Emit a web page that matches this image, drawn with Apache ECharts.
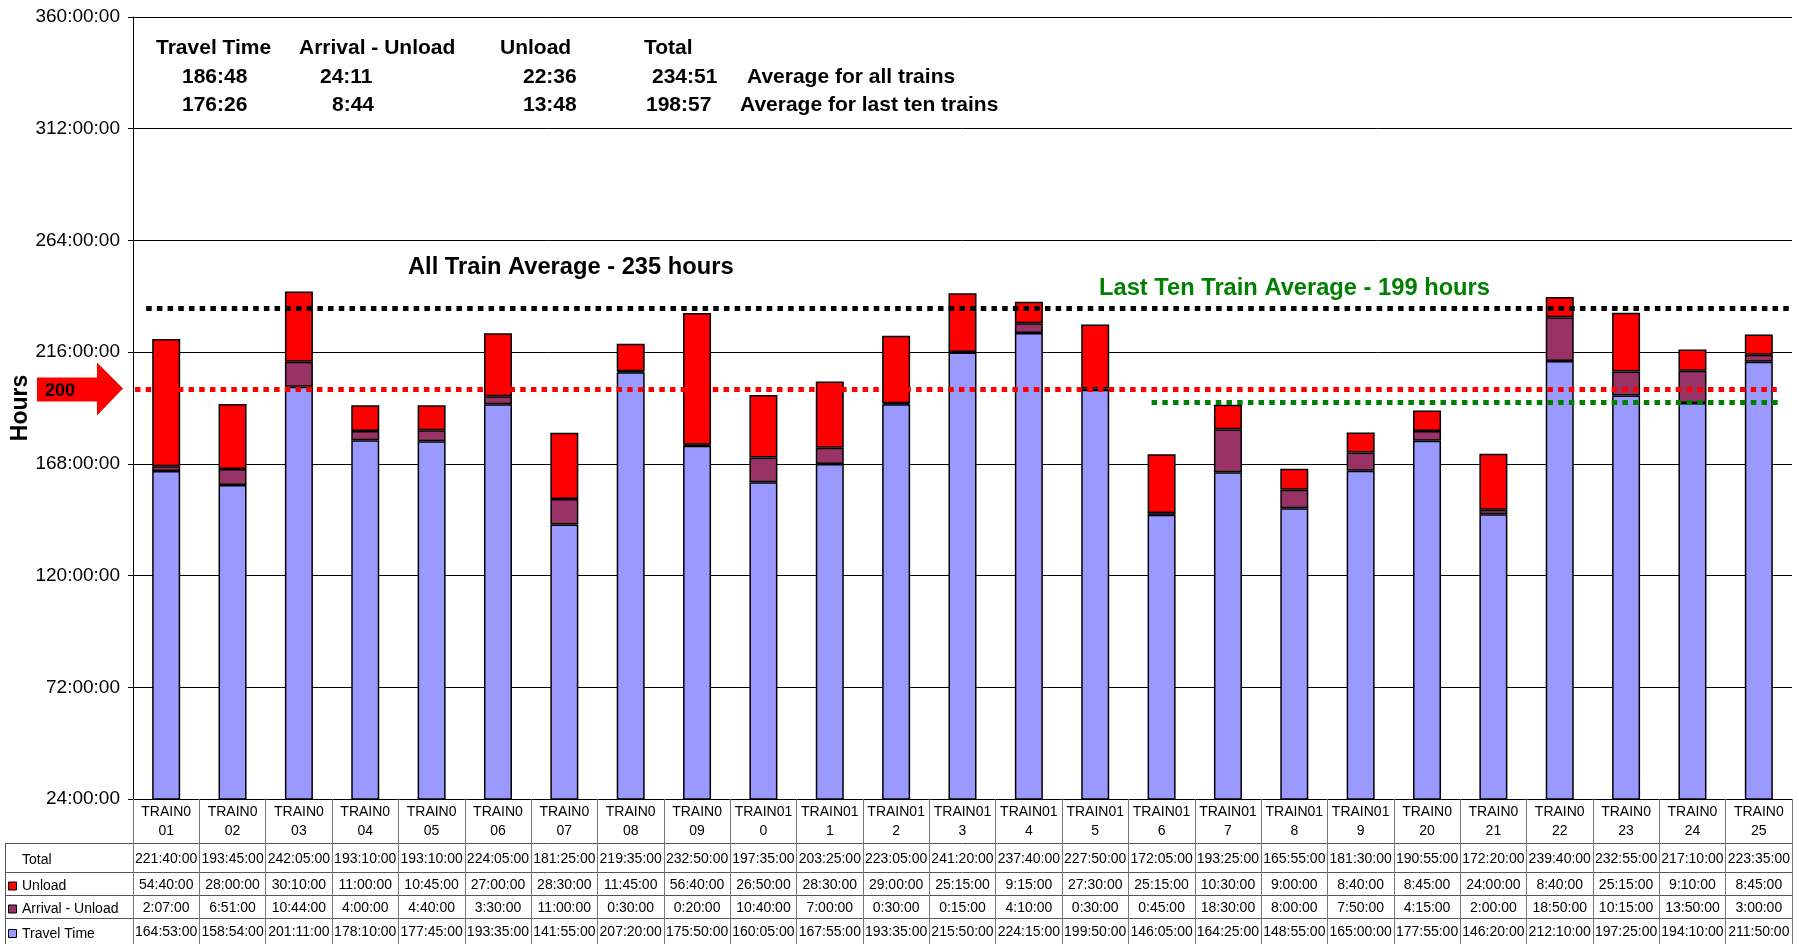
<!DOCTYPE html>
<html><head><meta charset="utf-8">
<script src="https://cdn.jsdelivr.net/npm/echarts@6/dist/echarts.min.js"></script>
<style>html,body{margin:0;padding:0;background:#fff;}#c{width:1799px;height:944px;}</style>
</head><body><div id="c"></div>
<script>
// ---------------- data ----------------
const categories = ['TRAIN001','TRAIN002','TRAIN003','TRAIN004','TRAIN005','TRAIN006','TRAIN007','TRAIN008','TRAIN009','TRAIN010',
  'TRAIN011','TRAIN012','TRAIN013','TRAIN014','TRAIN015','TRAIN016','TRAIN017','TRAIN018','TRAIN019','TRAIN020',
  'TRAIN021','TRAIN022','TRAIN023','TRAIN024','TRAIN025'];
const travelTime = ['164:53','158:54','201:11','178:10','177:45','193:35','141:55','207:20','175:50','160:05','167:55','193:35','215:50',
  '224:15','199:50','146:05','164:25','148:55','165:00','177:55','146:20','212:10','197:25','194:10','211:50'];
const arrivalUnload = ['2:07','6:51','10:44','4:00','4:40','3:30','11:00','0:30','0:20','10:40','7:00','0:30','0:15',
  '4:10','0:30','0:45','18:30','8:00','7:50','4:15','2:00','18:50','10:15','13:50','3:00'];
const unloadTime = ['54:40','28:00','30:10','11:00','10:45','27:00','28:30','11:45','56:40','26:50','28:30','29:00','25:15',
  '9:15','27:30','25:15','10:30','9:00','8:40','8:45','24:00','8:40','25:15','9:10','8:45'];
const seriesNames = ['Travel Time','Arrival - Unload','Unload'];
const seriesColors = ['#9999FF','#993366','#FF0000'];
const summaryHeader = ['Travel Time','Arrival - Unload','Unload','Total'];
const summaryAll = ['186:48','24:11','22:36','234:51','Average for all trains'];
const summaryLastTen = ['176:26','8:44','13:48','198:57','Average for last ten trains'];
const yAxisTitle = 'Hours';
const allAvgLine = 235;      // black dotted
const targetLine = 200;      // red dotted
const lastTenLine = 194.3;   // green dotted (as drawn)
const lastTenFrom = 'TRAIN016';
const lastTenTo = 'TRAIN025';
const yMin = 24, yMax = 360, yStep = 48;

// ---------------- helpers ----------------
const toHours = s => { const p = s.split(':'); return (+p[0]) + (+p[1]) / 60; };
const fmt = h => { const tot = Math.round(h * 60); const hh = Math.floor(tot / 60), mm = tot % 60; return hh + ':' + String(mm).padStart(2, '0') + ':00'; };
const tv = travelTime.map(toHours), av = arrivalUnload.map(toHours), uv = unloadTime.map(toHours);
const totals = tv.map((v, i) => v + av[i] + uv[i]);
const tableRows = [totals.map(fmt), uv.map(fmt), av.map(fmt), tv.map(fmt)];
const rowTitles = ['Total', 'Unload', 'Arrival - Unload', 'Travel Time'];
const rowSwatch = [null, seriesColors[2], seriesColors[1], seriesColors[0]];

const FONT = '"Liberation Sans", Arial, sans-serif';
const gridLeft = 133, gridRight = 7, gridTop = 17, gridBottom = 145;
const W = 1799, H = 944;
const axisY = H - gridBottom;          // 799
const rowOffsets = [44, 73, 96, 119];
const rowHeights = [29, 23, 23, 26];
const rowMargins = [9, 6, 6, 7];

const wrapName = n => (n[6] === '1' ? n.slice(0, 7) + '\n' + n.slice(7) : n.slice(0, 6) + '\n' + n.slice(6));

const xAxes = [{
  type: 'category', data: categories, gridIndex: 0, position: 'bottom', offset: 0,
  axisLine: { show: true, onZero: false, lineStyle: { color: '#000', width: 1 } },
  axisTick: { show: true, interval: 0, alignWithLabel: false, length: 44, lineStyle: { color: '#777', width: 1 } },
  axisLabel: { interval: 0, margin: 3, fontSize: 14, lineHeight: 19.5, color: '#000', fontFamily: FONT, formatter: wrapName },
  splitLine: { show: false }
}];
tableRows.forEach((row, r) => {
  xAxes.push({
    type: 'category', data: categories, gridIndex: 0, position: 'bottom', offset: rowOffsets[r],
    axisLine: { show: true, onZero: false, lineStyle: { color: '#555', width: 1 } },
    axisTick: { show: true, interval: 0, alignWithLabel: false, length: rowHeights[r], lineStyle: { color: '#777', width: 1 } },
    axisLabel: { interval: 0, margin: rowMargins[r], fontSize: 14, color: '#000', fontFamily: FONT,
      formatter: (v, i) => row[i] },
    splitLine: { show: false }
  });
});

const dotted = (color) => ({ color: color, width: 5, type: [5.5, 5.2], cap: 'butt' });

const series = [tv, av, uv].map((vals, k) => ({
  name: seriesNames[k], type: 'bar', stack: 'total', xAxisIndex: 0, yAxisIndex: 0,
  barWidth: 28, data: vals,
  itemStyle: { color: seriesColors[k], borderColor: '#000', borderWidth: 1.5 },
  emphasis: { disabled: true }, clip: true
}));

const baseOption = {
  animation: false,
  backgroundColor: '#fff',
  grid: { left: gridLeft, right: gridRight, top: gridTop, bottom: gridBottom, containLabel: false, outerBoundsMode: 'none' },
  xAxis: xAxes,
  yAxis: {
    type: 'value', min: yMin, max: yMax, interval: yStep,
    axisLine: { show: true, lineStyle: { color: '#000', width: 1 } },
    axisTick: { show: true, length: 5, lineStyle: { color: '#000' } },
    axisLabel: { fontSize: 19, color: '#000', margin: 13, fontFamily: FONT, formatter: v => v + ':00:00' },
    splitLine: { show: true, lineStyle: { color: '#000', width: 1 } }
  },
  series: series
};

const chart = echarts.init(document.getElementById('c'), null, { renderer: 'canvas', width: W, height: H });
chart.setOption(baseOption);

// ---------------- reference lines (positions from the chart's own scales) ----------------
const px = (cat, val) => chart.convertToPixel({ xAxisIndex: 0, yAxisIndex: 0 }, [cat, val]);
const firstC = px(categories[0], targetLine), lastC = px(categories[categories.length - 1], targetLine);
const gFrom = px(lastTenFrom, lastTenLine), gTo = px(lastTenTo, lastTenLine);
const yT = firstC[1], yA = px(categories[0], allAvgLine)[1], yG = gFrom[1];
const yMid = px(categories[0], (yMin + yMax) / 2)[1];
chart.setOption({
  series: [{}, {}, {
    markLine: {
      silent: true, symbol: 'none', z: 10, label: { show: false },
      data: [
        [{ x: gridLeft + 2, y: yT, lineStyle: dotted('#FF0000') }, { x: lastC[0] + 18, y: yT }],
        [{ x: firstC[0] - 20, y: yA, lineStyle: dotted('#000000') }, { x: W - gridRight, y: yA }],
        [{ x: gFrom[0] - 10, y: yG, lineStyle: dotted('#008000') }, { x: gTo[0] + 21, y: yG }]
      ]
    }
  }]
});

// ---------------- annotations ----------------
const g = [];
// y axis title
g.push({ type: 'text', silent: true, x: 21, y: yMid, rotation: Math.PI / 2,
  style: { text: yAxisTitle, font: 'bold 23px ' + FONT, fill: '#000', align: 'center', verticalAlign: 'middle' } });
// red arrow with 200
g.push({ type: 'polygon', silent: true, z: 20,
  shape: { points: [[37, yT - 12], [97, yT - 12], [97, yT - 27], [123, yT - 1], [97, yT + 26], [97, yT + 12], [37, yT + 12]] },
  style: { fill: '#FF0000', stroke: null } });
g.push({ type: 'text', silent: true, z: 21, x: 45, y: yT + 2,
  style: { text: String(targetLine), font: 'bold 18px ' + FONT, fill: '#000', verticalAlign: 'middle', align: 'left' } });

// summary block
const hdrFont = 'bold 21px ' + FONT;
const colX1 = [156, 299, 500, 644];
const colX2 = [182, 320, 523, 652, 747];
const colX3 = [182, 332, 523, 646, 740];
summaryHeader.forEach((t, i) => g.push({ type: 'text', silent: true, x: colX1[i], y: 48, style: { text: t, font: hdrFont, fill: '#000', verticalAlign: 'middle' } }));
summaryAll.forEach((t, i) => g.push({ type: 'text', silent: true, x: colX2[i], y: 77, style: { text: t, font: hdrFont, fill: '#000', verticalAlign: 'middle' } }));
summaryLastTen.forEach((t, i) => g.push({ type: 'text', silent: true, x: colX3[i], y: 105, style: { text: t, font: hdrFont, fill: '#000', verticalAlign: 'middle' } }));

g.push({ type: 'text', silent: true, x: 408, y: 267, style: { text: 'All Train Average - ' + allAvgLine + ' hours', font: 'bold 23.7px ' + FONT, fill: '#000', verticalAlign: 'middle' } });
g.push({ type: 'text', silent: true, x: 1099, y: 288, style: { text: 'Last Ten Train Average - 199 hours', font: 'bold 23.7px ' + FONT, fill: '#008000', verticalAlign: 'middle' } });

// left header column of data table
const rowTops = rowOffsets.map(o => axisY + o);
rowTops.forEach((yt, r) => {
  g.push({ type: 'line', silent: true, shape: { x1: 5, y1: yt + 0.5, x2: gridLeft, y2: yt + 0.5 }, style: { stroke: '#555', lineWidth: 1 } });
  const cy = yt + rowHeights[r] / 2 + 3;
  if (rowSwatch[r]) {
    g.push({ type: 'rect', silent: true, shape: { x: 8.5, y: cy - 4.5, width: 8, height: 8 }, style: { fill: rowSwatch[r], stroke: '#000', lineWidth: 1 } });
  }
  g.push({ type: 'text', silent: true, x: 22, y: cy, style: { text: rowTitles[r], font: '14px ' + FONT, fill: '#000', verticalAlign: 'middle' } });
});
g.push({ type: 'line', silent: true, shape: { x1: 5.5, y1: rowTops[0], x2: 5.5, y2: H }, style: { stroke: '#555', lineWidth: 1 } });
g.push({ type: 'line', silent: true, shape: { x1: gridLeft + 0.5, y1: axisY, x2: gridLeft + 0.5, y2: H }, style: { stroke: '#555', lineWidth: 1 } });

chart.setOption({ graphic: g });
</script>
</body></html>
